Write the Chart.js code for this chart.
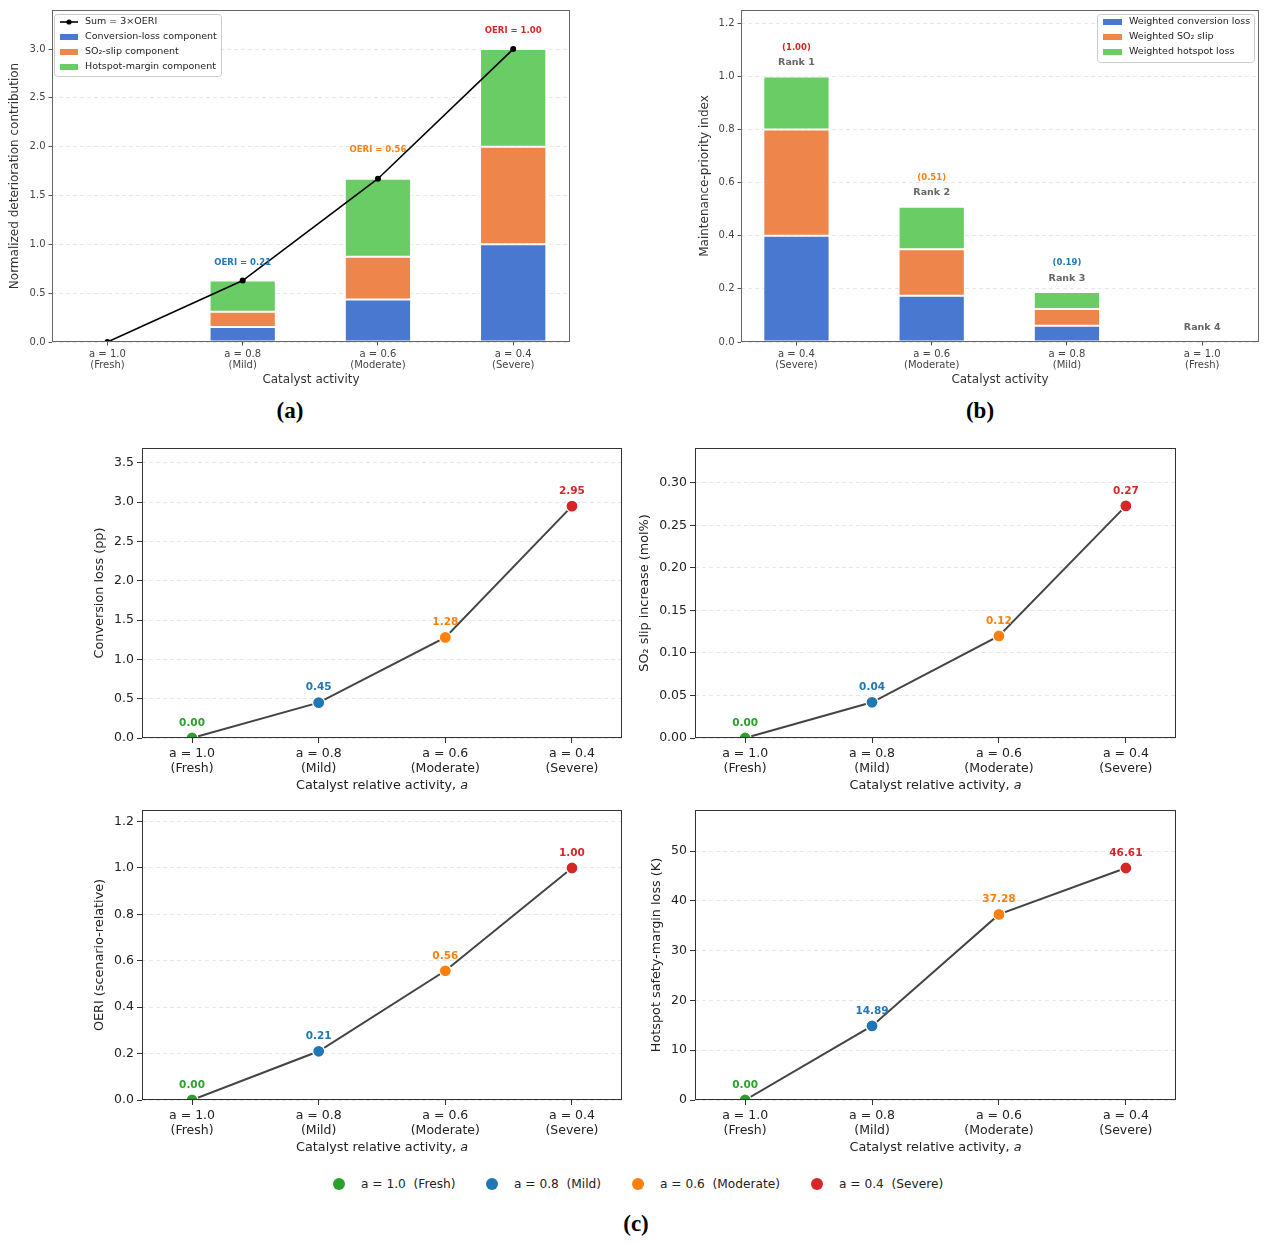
<!DOCTYPE html>
<html><head><meta charset="utf-8">
<script src="https://cdn.jsdelivr.net/npm/chart.js@4.4.1/dist/chart.umd.min.js"></script>
<style>
body{margin:0;background:#fff;width:1270px;height:1244px;position:relative;overflow:hidden;font-family:'DejaVu Sans',sans-serif}
canvas{position:absolute}
.panel{position:absolute;font:bold 23px 'Liberation Serif',serif;color:#000;transform:translate(-50%,-50%)}
.ldot{position:absolute;top:1178px;width:12px;height:12px;border-radius:50%}
.ltxt{position:absolute;top:1176px;font:12.2px 'DejaVu Sans';color:#222;white-space:pre;line-height:16px}
</style></head>
<body>
<canvas id="ca" width="580" height="395" style="left:0;top:0"></canvas>
<canvas id="cb" width="630" height="395" style="left:640px;top:0"></canvas>
<canvas id="c1" width="572" height="360" style="left:60px;top:440px"></canvas>
<canvas id="c2" width="551" height="360" style="left:635px;top:440px"></canvas>
<canvas id="c3" width="572" height="360" style="left:60px;top:802px"></canvas>
<canvas id="c4" width="551" height="360" style="left:635px;top:802px"></canvas>
<div class="panel" style="left:290px;top:411px">(a)</div>
<div class="panel" style="left:980px;top:411px">(b)</div>
<div class="panel" style="left:636px;top:1224px">(c)</div>
<div id="legend"></div>
<script>
// ---------------- DATA ----------------
const activityLabels = [['a = 1.0','(Fresh)'],['a = 0.8','(Mild)'],['a = 0.6','(Moderate)'],['a = 0.4','(Severe)']];
const legendLabels = ['a = 1.0  (Fresh)','a = 0.8  (Mild)','a = 0.6  (Moderate)','a = 0.4  (Severe)'];
const levelColors = ['#2ca02c','#1f77b4','#ff7f0e','#d62728'];

// (a) normalized deterioration components (Fresh, Mild, Moderate, Severe)
const convLossComponent = [0, 0.153, 0.434, 1.000];
const so2SlipComponent  = [0, 0.157, 0.438, 1.000];
const hotspotComponent  = [0, 0.319, 0.800, 1.000];
const oeri              = [0.00, 0.21, 0.557, 1.00];

// (b) maintenance priority (Severe, Moderate, Mild, Fresh)
const priorityLabels = [['a = 0.4','(Severe)'],['a = 0.6','(Moderate)'],['a = 0.8','(Mild)'],['a = 1.0','(Fresh)']];
const priorityColors = ['#d62728','#ff7f0e','#1f77b4','#2ca02c'];
const weightedConv = [0.400, 0.174, 0.061, 0];
const weightedSO2  = [0.400, 0.175, 0.063, 0];
const weightedHot  = [0.200, 0.160, 0.064, 0];
const priorityScore = [1.00, 0.51, 0.19, 0.00];
const rankLabels = ['Rank 1','Rank 2','Rank 3','Rank 4'];

// (c) raw indicators (Fresh, Mild, Moderate, Severe)
const conversionLoss = [0.00, 0.45, 1.28, 2.95];
const so2SlipIncrease = [0.000, 0.042, 0.120, 0.273];
const oeriScenario = [0.00, 0.21, 0.557, 1.00];
const hotspotMarginLoss = [0.00, 14.89, 37.28, 46.61];

// ---------------- HELPERS ----------------
const FONT = "'DejaVu Sans'";
Chart.defaults.font.family = FONT;
Chart.defaults.animation = false;
const xy = arr => arr.map((v,i)=>({x:i,y:v}));
const deteriorationSum = convLossComponent.map((v,i)=>v+so2SlipComponent[i]+hotspotComponent[i]);

function drawYTitle(ctx, a, text, size, dx, color){
  ctx.save();
  ctx.translate(a.left-dx,(a.top+a.bottom)/2);
  ctx.rotate(-Math.PI/2);
  ctx.font = size+"px "+FONT; ctx.fillStyle=color; ctx.textAlign='center'; ctx.textBaseline='middle';
  ctx.fillText(text,0,0);
  ctx.restore();
}
function drawXTitle(ctx, a, parts, size, dy, color){
  ctx.save();
  ctx.fillStyle=color; ctx.textBaseline='middle'; ctx.textAlign='left';
  const ws=[]; let total=0;
  parts.forEach(p=>{ctx.font=(p.italic?'italic ':'')+size+"px "+FONT; const w=ctx.measureText(p.t).width; ws.push(w); total+=w;});
  let x=(a.left+a.right)/2-total/2;
  parts.forEach((p,i)=>{ctx.font=(p.italic?'italic ':'')+size+"px "+FONT; ctx.fillText(p.t,x,a.bottom+dy); x+=ws[i];});
  ctx.restore();
}
function roundRect(ctx,x,y,w,h,r){
  ctx.beginPath();
  ctx.moveTo(x+r,y);ctx.lineTo(x+w-r,y);ctx.quadraticCurveTo(x+w,y,x+w,y+r);
  ctx.lineTo(x+w,y+h-r);ctx.quadraticCurveTo(x+w,y+h,x+w-r,y+h);
  ctx.lineTo(x+r,y+h);ctx.quadraticCurveTo(x,y+h,x,y+h-r);
  ctx.lineTo(x,y+r);ctx.quadraticCurveTo(x,y,x+r,y);ctx.closePath();
}

function decor(o){
  return {
    id:'decor',
    afterDatasetsDraw(chart){
      const ctx=chart.ctx, a=chart.chartArea;
      ctx.save();
      ctx.strokeStyle=o.frameColor; ctx.lineWidth=1;
      ctx.strokeRect(Math.round(a.left)+0.5,Math.round(a.top)+0.5,Math.round(a.right-a.left)-1,Math.round(a.bottom-a.top)-1);
      ctx.restore();
      if(o.draw) o.draw(chart, ctx, a);
      drawXTitle(ctx,a,o.xTitle,o.titleSize,o.xTitleDy,o.titleColor);
      drawYTitle(ctx,a,o.yTitle,o.titleSize,o.yTitleDx,o.titleColor);
    }
  };
}

function xScale(labels, h, opts){
  return {type:'linear',min:opts.xmin,max:opts.xmax,stacked:!!opts.stacked,offset:false,
    grid:{offset:false,drawOnChartArea:false,drawTicks:true,tickLength:opts.tick,tickColor:opts.tickColor,tickWidth:1},
    border:{display:false},
    ticks:{stepSize:1,includeBounds:false,autoSkip:false,maxRotation:0,minRotation:0,padding:opts.pad,color:opts.color,
      font:{size:opts.size,lineHeight:opts.lh},callback:v=>labels[Math.round(v)]},
    afterFit(s){s.height=h;s.paddingLeft=0;s.paddingRight=0;s.paddingTop=0;s.paddingBottom=0;}};
}
function yScale(max, step, dec, w, opts){
  return {min:0,max:max,stacked:!!opts.stacked,
    grid:{color:'rgba(0,0,0,0.12)',lineWidth:0.8,drawTicks:true,tickLength:opts.tick,tickColor:opts.tickColor,tickWidth:1,tickBorderDash:[]},
    border:{display:false,dash:[4,3]},
    ticks:{stepSize:step,includeBounds:false,padding:opts.pad,color:opts.color,font:{size:opts.size},callback:v=>v.toFixed(dec)},
    afterFit(s){s.width=w;s.paddingLeft=0;s.paddingRight=0;s.paddingTop=0;s.paddingBottom=0;}};
}
const topOpts = {tick:3.5,tickColor:'#555',pad:3,color:'#444',size:10,lh:1.1,xmin:-0.41,xmax:3.42};
const botOpts = {tick:5,tickColor:'#333',pad:3,color:'#222',size:12.5,lh:1.2,xmin:-0.395,xmax:3.395};

const barColors = ['#4878d0','#ee854a','#6acc64'];
function barDs(label,data,color){
  return {label,data:xy(data),backgroundColor:color,borderColor:'#fff',borderWidth:1,borderSkipped:false,
    barPercentage:0.49,categoryPercentage:1,order:1,clip:0};
}

// ---------------- (a) ----------------
const dsA = [
  {type:'line',label:'Sum = 3×OERI',data:xy(deteriorationSum),borderColor:'#000',borderWidth:1.6,
   pointRadius:3,pointBackgroundColor:'#000',pointBorderWidth:0,order:0,clip:0,tension:0},
  barDs('Conversion-loss component',convLossComponent,barColors[0]),
  barDs('SO₂-slip component',so2SlipComponent,barColors[1]),
  barDs('Hotspot-margin component',hotspotComponent,barColors[2])
];
new Chart(document.getElementById('ca'),{
  type:'bar',
  data:{datasets:dsA},
  options:{responsive:false,layout:{padding:{top:10,right:10,left:0,bottom:0}},
    scales:{x:xScale(activityLabels,53,{...topOpts,stacked:true}),y:yScale(3.4,0.5,1,52,{...topOpts,stacked:true})},
    plugins:{legend:{display:false},tooltip:{enabled:false}}},
  plugins:[decor({frameColor:'#666',titleSize:12,titleColor:'#333',xTitle:[{t:'Catalyst activity'}],xTitleDy:38,
    yTitle:'Normalized deterioration contribution',yTitleDx:37,
    draw(chart,ctx,a){
      const xs=chart.scales.x, ys=chart.scales.y;
      const lift=[0,18,29,18];
      ctx.save();
      ctx.font="bold 8.5px "+FONT; ctx.textAlign='center'; ctx.textBaseline='middle';
      for(let i=1;i<4;i++){
        ctx.fillStyle=levelColors[i];
        ctx.fillText('OERI = '+oeri[i].toFixed(2),xs.getPixelForValue(i),ys.getPixelForValue(deteriorationSum[i])-lift[i]);
      }
      const bx=a.left+2, by=a.top+4;
      roundRect(ctx,bx+0.5,by+0.5,167,62,3);
      ctx.fillStyle='rgba(255,255,255,0.85)'; ctx.fill(); ctx.strokeStyle='#cccccc'; ctx.lineWidth=1; ctx.stroke();
      ctx.font="9.5px "+FONT; ctx.textAlign='left';
      dsA.forEach((d,k)=>{
        const yy=by+8+k*15;
        if(k===0){
          ctx.strokeStyle='#000';ctx.lineWidth=1.6;ctx.beginPath();ctx.moveTo(bx+6,yy);ctx.lineTo(bx+24,yy);ctx.stroke();
          ctx.fillStyle='#000';ctx.beginPath();ctx.arc(bx+15,yy,2.6,0,Math.PI*2);ctx.fill();
        } else {
          ctx.fillStyle=d.backgroundColor;ctx.fillRect(bx+6,yy-3,18,6);
        }
        ctx.fillStyle='#222';ctx.fillText(d.label,bx+31,yy);
      });
      ctx.restore();
    }})]
});

// ---------------- (b) ----------------
const dsB = [
  barDs('Weighted conversion loss',weightedConv,barColors[0]),
  barDs('Weighted SO₂ slip',weightedSO2,barColors[1]),
  barDs('Weighted hotspot loss',weightedHot,barColors[2])
];
new Chart(document.getElementById('cb'),{
  type:'bar',
  data:{datasets:dsB},
  options:{responsive:false,layout:{padding:{top:10,right:11,left:0,bottom:0}},
    scales:{x:xScale(priorityLabels,53,{...topOpts,stacked:true}),y:yScale(1.25,0.2,1,101,{...topOpts,stacked:true})},
    plugins:{legend:{display:false},tooltip:{enabled:false}}},
  plugins:[decor({frameColor:'#666',titleSize:12,titleColor:'#333',xTitle:[{t:'Catalyst activity'}],xTitleDy:38,
    yTitle:'Maintenance-priority index',yTitleDx:36,
    draw(chart,ctx,a){
      const xs=chart.scales.x, ys=chart.scales.y;
      ctx.save(); ctx.textAlign='center'; ctx.textBaseline='middle';
      for(let i=0;i<4;i++){
        const tot=weightedConv[i]+weightedSO2[i]+weightedHot[i];
        const px=xs.getPixelForValue(i), py=ys.getPixelForValue(tot);
        ctx.font="bold 9.5px "+FONT; ctx.fillStyle='#666';
        ctx.fillText(rankLabels[i],px,py-14);
        if(priorityScore[i]>0){
          ctx.font="bold 8.5px "+FONT; ctx.fillStyle=priorityColors[i];
          ctx.fillText('('+priorityScore[i].toFixed(2)+')',px,py-29);
        }
      }
      const bw=157,bh=48, bx=a.right-5-bw, by=a.top+4;
      roundRect(ctx,bx+0.5,by+0.5,bw,bh,3);
      ctx.fillStyle='rgba(255,255,255,0.85)'; ctx.fill(); ctx.strokeStyle='#cccccc'; ctx.lineWidth=1; ctx.stroke();
      ctx.font="9.5px "+FONT; ctx.textAlign='left';
      dsB.forEach((d,k)=>{
        const yy=by+8+k*15;
        ctx.fillStyle=d.backgroundColor;ctx.fillRect(bx+6,yy-3,19,6);
        ctx.fillStyle='#222';ctx.fillText(d.label,bx+32,yy);
      });
      ctx.restore();
    }})]
});

// ---------------- (c) ----------------
function lineChart(id, values, max, step, dec, yW, yTitle, yDx, labelDec){
  new Chart(document.getElementById(id),{
    type:'line',
    data:{datasets:[{data:xy(values),borderColor:'#444',borderWidth:2,tension:0,clip:0,
      pointRadius:6,pointHoverRadius:6,pointBackgroundColor:levelColors,pointBorderColor:'#fff',pointBorderWidth:1.2}]},
    options:{responsive:false,layout:{padding:{top:8,right:10,left:0,bottom:0}},
      scales:{x:xScale(activityLabels,62,botOpts),y:yScale(max,step,dec,yW,botOpts)},
      plugins:{legend:{display:false},tooltip:{enabled:false}}},
    plugins:[decor({frameColor:'#333',titleSize:12.8,titleColor:'#222',
      xTitle:[{t:'Catalyst relative activity, '},{t:'a',italic:true}],xTitleDy:48,
      yTitle:yTitle,yTitleDx:yDx,
      draw(chart,ctx,a){
        const xs=chart.scales.x, ys=chart.scales.y;
        ctx.save(); ctx.font="bold 10.5px "+FONT; ctx.textAlign='center'; ctx.textBaseline='middle';
        values.forEach((v,i)=>{
          ctx.fillStyle=levelColors[i];
          ctx.fillText(v.toFixed(labelDec),xs.getPixelForValue(i),ys.getPixelForValue(v)-15);
        });
        ctx.restore();
      }})]
  });
}
lineChart('c1',conversionLoss,3.69,0.5,1,82,'Conversion loss (pp)',42,2);
lineChart('c2',so2SlipIncrease,0.341,0.05,2,60,'SO₂ slip increase (mol%)',50,2);
lineChart('c3',oeriScenario,1.25,0.2,1,82,'OERI (scenario-relative)',42,2);
lineChart('c4',hotspotMarginLoss,58.26,10,0,60,'Hotspot safety-margin loss (K)',38,2);

// bottom legend
const legendDotX = [339, 492, 638, 817];
legendLabels.forEach((t,i)=>{
  const d=document.createElement('div');d.className='ldot';d.style.background=levelColors[i];d.style.left=(legendDotX[i]-6)+'px';
  document.body.appendChild(d);
  const s=document.createElement('div');s.className='ltxt';s.textContent=t;s.style.left=(legendDotX[i]+22)+'px';
  document.body.appendChild(s);
});
</script>
</body></html>
